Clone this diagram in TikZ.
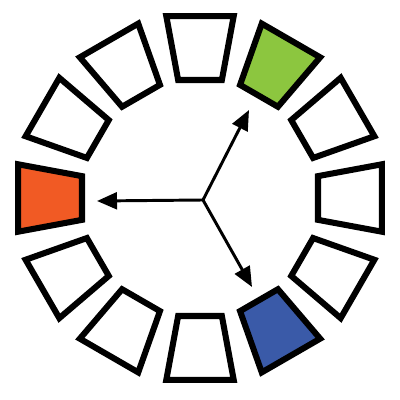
\documentclass[tikz,border=0pt]{standalone}
\usepackage{tikz}
\usetikzlibrary{arrows.meta}
\definecolor{segGreen}{HTML}{8CC63F}
\definecolor{segOrange}{HTML}{F15A24}
\definecolor{segBlue}{HTML}{3A5AA8}
\tikzset{
  seg/.style={draw=black,line width=4.3pt,fill=white},
  spoke/.style={line width=2.1pt,-{Triangle[length=5mm,width=4.2mm]}}
}
\begin{document}
\begin{tikzpicture}
        \useasboundingbox (-5,-5.05) rectangle (5,4.95);
        \draw[seg,rotate=0]   (-10.5:3) -- (10.5:3) -- (10.5:4.625) -- (-10.5:4.625) -- cycle;
        \draw[seg,rotate=30]  (-10.5:3) -- (10.5:3) -- (10.5:4.625) -- (-10.5:4.625) -- cycle;
        \draw[seg,rotate=60,fill=segGreen] (-10.5:3) -- (10.5:3) -- (10.5:4.625) -- (-10.5:4.625) -- cycle;
        \draw[seg,rotate=90]  (-10.5:3) -- (10.5:3) -- (10.5:4.625) -- (-10.5:4.625) -- cycle;
        \draw[seg,rotate=120] (-10.5:3) -- (10.5:3) -- (10.5:4.625) -- (-10.5:4.625) -- cycle;
        \draw[seg,rotate=150] (-10.5:3) -- (10.5:3) -- (10.5:4.625) -- (-10.5:4.625) -- cycle;
        \draw[seg,rotate=180,fill=segOrange] (-10.5:3) -- (10.5:3) -- (10.5:4.625) -- (-10.5:4.625) -- cycle;
        \draw[seg,rotate=210] (-10.5:3) -- (10.5:3) -- (10.5:4.625) -- (-10.5:4.625) -- cycle;
        \draw[seg,rotate=240] (-10.5:3) -- (10.5:3) -- (10.5:4.625) -- (-10.5:4.625) -- cycle;
        \draw[seg,rotate=270] (-10.5:3) -- (10.5:3) -- (10.5:4.625) -- (-10.5:4.625) -- cycle;
        \draw[seg,rotate=300,fill=segBlue] (-10.5:3) -- (10.5:3) -- (10.5:4.625) -- (-10.5:4.625) -- cycle;
        \draw[seg,rotate=330] (-10.5:3) -- (10.5:3) -- (10.5:4.625) -- (-10.5:4.625) -- cycle;
        \coordinate (hub) at (0.075,-0.05);
        \coordinate (toGreen) at (1.225,2.2);
        \coordinate (toOrange) at (-2.575,-0.075);
        \coordinate (toBlue) at (1.3,-2.225);
        \draw[spoke] (hub) -- (toGreen);
        \draw[spoke] (hub) -- (toOrange);
        \draw[spoke] (hub) -- (toBlue);
    \end{tikzpicture}
\end{document}
